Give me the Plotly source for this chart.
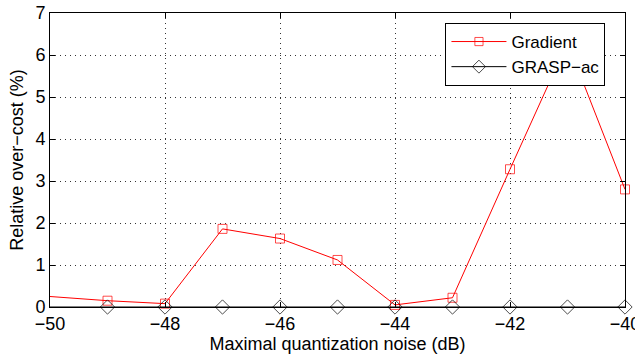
import plotly.graph_objects as go

noise_db = [-50, -49, -48, -47, -46, -45, -44, -43, -42, -41, -40]
gradient = [0.25, 0.15, 0.08, 1.86, 1.63, 1.12, 0.05, 0.22, 3.28, 6.3, 2.8]
grasp_ac = [0, 0, 0, 0, 0, 0, 0, 0, 0, 0, 0]
x_ticks = [-50, -48, -46, -44, -42, -40]
y_ticks = [0, 1, 2, 3, 4, 5, 6, 7]

font = "Liberation Sans, Arial, Helvetica, sans-serif"

grad_sizes = [0] + [9] * (len(noise_db) - 1)
grasp_sizes = [0] + [11] * (len(noise_db) - 1)

fig = go.Figure()
fig.add_trace(go.Scatter(
    x=noise_db, y=gradient, mode="lines+markers", name="Gradient",
    line=dict(color="#ff0000", width=1),
    marker=dict(symbol="square-open", size=grad_sizes, color="#ff0000", line=dict(width=1)),
    cliponaxis=False,
))
fig.add_trace(go.Scatter(
    x=noise_db, y=grasp_ac, mode="lines+markers", name="GRASP−ac",
    line=dict(color="#000000", width=1),
    marker=dict(symbol="diamond-open", size=grasp_sizes, color="#000000", line=dict(width=1)),
    cliponaxis=False,
))

axis_common = dict(
    showline=True, linecolor="black", linewidth=1, mirror="ticks",
    ticks="inside", ticklen=5, tickcolor="black",
    showgrid=True, gridcolor="#333333", griddash="1px,4px", gridwidth=1,
    zeroline=False, automargin=False, ticklabeloverflow="allow",
    tickfont=dict(family=font, size=18, color="black"),
)

fig.update_layout(
    width=635, height=360,
    margin=dict(l=50, r=10, t=13, b=53),
    paper_bgcolor="white", plot_bgcolor="white",
    font=dict(family=font, size=18, color="black"),
    showlegend=True,
    legend=dict(
        x=0.966, y=0.966, xanchor="right", yanchor="top",
        bgcolor="white", bordercolor="black", borderwidth=1,
        font=dict(family=font, size=17, color="black"),
        tracegroupgap=0, itemwidth=55,
    ),
    xaxis=dict(
        range=[-50, -40], tickvals=x_ticks,
        title=dict(text="Maximal quantization noise (dB)", standoff=1,
                   font=dict(family=font, size=18)),
        **axis_common,
    ),
    yaxis=dict(
        range=[0, 7], tickvals=y_ticks,
        title=dict(text="Relative over−cost (%)", standoff=7,
                   font=dict(family=font, size=18)),
        **axis_common,
    ),
)

fig.write_html("out.html", config={"displayModeBar": False},
               post_script="document.body.style.margin='0px';")
